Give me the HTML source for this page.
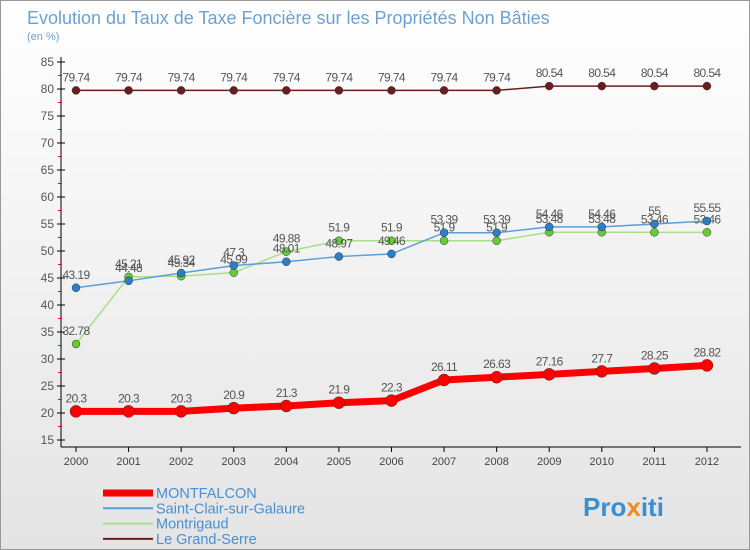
<!DOCTYPE html>
<html><head><meta charset="utf-8"><style>
body{margin:0;background:#fff}
#c{position:relative;width:750px;height:550px;background:linear-gradient(#fff,#e4e4e4);font-family:"Liberation Sans",sans-serif;overflow:hidden;border:1px solid #999;box-sizing:border-box}
</style></head><body>
<div id="c">
<svg id="s" width="750" height="550" style="position:absolute;left:0;top:0">
<text x="26" y="23" font-size="18" fill="#6aa2d4">Evolution du Taux de Taxe Foncière sur les Propriétés Non Bâties</text>
<text x="26" y="39" font-size="11" fill="#6aa2d4">(en %)</text>
<text x="582" y="515" font-size="26" font-weight="bold" fill="#3a8fd0">Pro<tspan fill="#f08a1c">x</tspan>iti</text>
</svg>
</div>
<script>
const years=[2000,2001,2002,2003,2004,2005,2006,2007,2008,2009,2010,2011,2012];
const montfalcon=[20.3,20.3,20.3,20.9,21.3,21.9,22.3,26.11,26.63,27.16,27.7,28.25,28.82];
const saintClair=[43.19,44.48,45.92,47.3,48.01,48.97,49.46,53.39,53.39,54.46,54.46,55,55.55];
const montrigaud=[32.78,45.21,45.34,45.99,49.88,51.9,51.9,51.9,51.9,53.48,53.48,53.46,53.46];
const grandSerre=[79.74,79.74,79.74,79.74,79.74,79.74,79.74,79.74,79.74,80.54,80.54,80.54,80.54];
const yTicks=[15,20,25,30,35,40,45,50,55,60,65,70,75,80,85];
const s=document.getElementById('s');const NS='http://www.w3.org/2000/svg';
const X=i=>75+i*52.58, Y=v=>439-(v-15)*5.4;
function mk(t,a,p){const e=document.createElementNS(NS,t);for(const k in a)e.setAttribute(k,a[k]);(p||s).appendChild(e);return e;}
let ax=mk('line',{x1:60,y1:56,x2:60,y2:446,stroke:'#000'});


let bx=mk('line',{x1:60,y1:446,x2:740,y2:446,stroke:'#000'});


yTicks.forEach(v=>{mk('line',{x1:56,x2:64,y1:Y(v),y2:Y(v),stroke:'#000'});
if(v<85)mk('line',{x1:57,x2:61,y1:Y(v+2.5),y2:Y(v+2.5),stroke:'#e00'});
const t=mk('text',{x:53,y:Y(v)+4,'font-size':12,fill:'#555','text-anchor':'end'});t.textContent=v;

});
years.forEach((y,i)=>{mk('line',{x1:X(i),x2:X(i),y1:446,y2:451,stroke:'#000'});
const t=mk('text',{x:X(i),y:464,'font-size':11,fill:'#444','text-anchor':'middle'});t.textContent=y;

});
const series=[[grandSerre,'#6b1d1d','#6b1d1d',1.5,4,'le-grand-serre'],[montrigaud,'#a8e08a','#66cc33',1.5,4,'montrigaud'],[saintClair,'#5a9fd8','#2c7fc4',1.5,4,'saint-clair'],[montfalcon,'#ff0000','#ff0000',7,6,'montfalcon']];
series.forEach(([d,lc,pc,w,r,n])=>{
const g=mk('g',{});

mk('polyline',{points:d.map((v,i)=>X(i)+','+Y(v)).join(' '),fill:'none',stroke:lc,'stroke-width':w},g);
d.forEach((v,i)=>{const c=mk('circle',{cx:X(i),cy:Y(v),r:r,fill:pc,stroke:'#333','stroke-width':0.5},g);


const t=mk('text',{x:X(i),y:Y(v)-9,'font-size':12,fill:'#555','text-anchor':'middle','letter-spacing':'-0.6'},g);t.textContent=v;

});});
const leg=[['MONTFALCON','#ff0000',7],['Saint-Clair-sur-Galaure','#5a9fd8',2],['Montrigaud','#a8e08a',2],['Le Grand-Serre','#6b1d1d',2]];
leg.forEach(([n,c,w],i)=>{const y=492+i*15.3;const g=mk('g',{});


mk('line',{x1:102,x2:152,y1:y,y2:y,stroke:c,'stroke-width':w},g);
const t=mk('text',{x:155,y:y+5,'font-size':14.5,fill:'#4a8fd0'},g);t.textContent=n;});
</script>
</body></html>
